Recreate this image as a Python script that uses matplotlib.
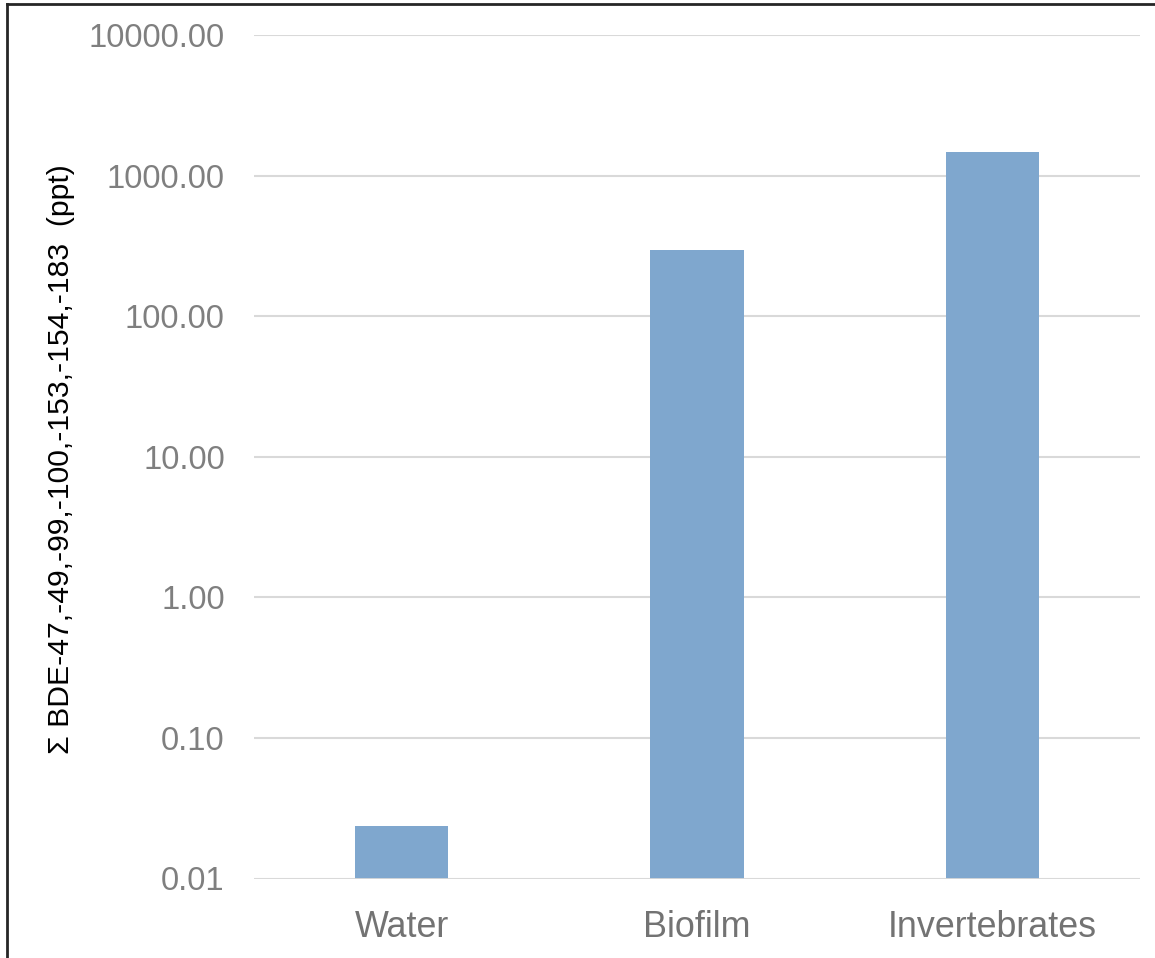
import numpy as np
import matplotlib.pyplot as plt
from matplotlib.lines import Line2D

# du lieu
categories = ["Water", "Biofilm", "Invertebrates"]
values = [0.0238, 296.0, 1470.0]
y_ticks = [0.01, 0.1, 1, 10, 100, 1000, 10000]
y_label = "\u03a3 BDE-47,-49,-99,-100,-153,-154,-183  (ppt)"

bar_color = "#7fa7ce"
grid_color = "#d9d9d9"
tick_color = "#7f7f7f"

plt.rcParams['font.family'] = ['Liberation Sans', 'DejaVu Sans']

fig = plt.figure(figsize=(11.55, 9.58), dpi=100)
ax = fig.add_axes([254/1155, 79.5/958, 886/1155, 843.5/958])

x = np.arange(len(categories))
ax.bar(x, values, width=0.315, color=bar_color, zorder=3)

ax.set_yscale('log')
ax.set_ylim(0.01, 10000)
ax.set_xlim(-0.5, 2.5)
ax.set_yticks(y_ticks)
ax.set_yticklabels(["%.2f" % v for v in y_ticks])
ax.yaxis.set_minor_locator(plt.NullLocator())
ax.set_xticks(x)
ax.set_xticklabels(categories)

ax.grid(axis='y', color=grid_color, linewidth=1.5, zorder=0)
for s in ax.spines.values():
    s.set_visible(False)
ax.tick_params(axis='y', length=0, pad=21, labelsize=23.5, labelcolor=tick_color)
ax.tick_params(axis='x', length=0, pad=23, labelsize=25.8, labelcolor="#737373")

# duong truc x
ax.axhline(0.01, color=grid_color, linewidth=2, zorder=4)

fig.text(61/1155, 1 - 459/958, y_label, rotation=90, ha='center', va='center',
         fontsize=21.7, color='black')

# khung ngoai (chi thay canh trai va canh tren)
fig.add_artist(Line2D([7/1155, 7/1155], [0, 1 - 4/958], transform=fig.transFigure,
                      color='#262626', linewidth=2))
fig.add_artist(Line2D([7/1155, 1], [1 - 4/958, 1 - 4/958], transform=fig.transFigure,
                      color='#262626', linewidth=2))

fig.savefig("out.png", dpi=100)
